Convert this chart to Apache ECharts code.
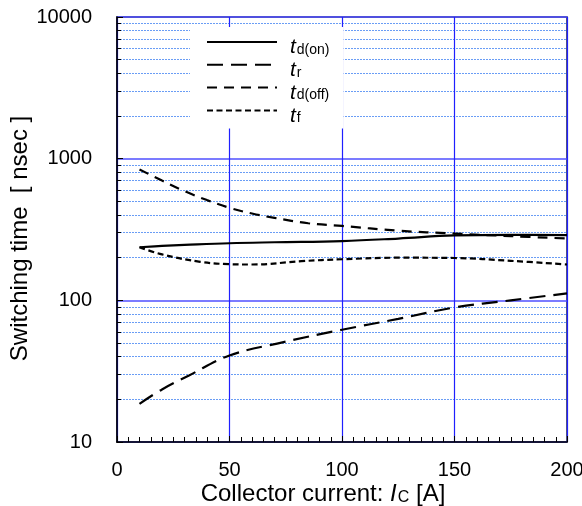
<!DOCTYPE html>
<html><head><meta charset="utf-8">
<script src="https://cdn.jsdelivr.net/npm/echarts@6/dist/echarts.min.js"></script>
<style>html,body{margin:0;padding:0;background:#fff}#c{width:582px;height:506px}</style>
</head><body><div id="c"></div>
<script>
var xTd_on = [10, 20, 30, 50, 70, 100, 125, 150, 175, 200];
var td_on  = [237, 242, 246, 253, 257, 262, 273, 287, 290, 289];
var xTr = [10, 20, 32, 50, 74, 100, 125, 150, 175, 200];
var tr  = [18.6, 23.5, 29.5, 40.8, 50.7, 62, 74, 89, 100, 112];
var xTd_off = [10, 20, 30, 40, 50, 60, 70, 85, 100, 125, 150, 175, 200];
var td_off  = [840, 700, 590, 510, 450, 410, 382, 350, 335, 310, 296, 284, 273];
var xTf = [10, 20, 37, 50, 60, 82, 100, 126, 150, 175, 200];
var tf  = [237, 211, 187, 180, 179, 189, 195, 200, 199, 190, 179];
var xTicks = [0, 50, 100, 150, 200];
var yTicks = [10, 100, 1000, 10000];
var names = ['td(on)', 'tr', 'td(off)', 'tf'];
var legendSub = {'td(on)': 'd(on)', 'tr': 'r', 'td(off)': 'd(off)', 'tf': 'f'};

function pairs(xs, ys) { return xs.map(function (x, i) { return [x, ys[i]]; }); }

var chart = echarts.init(document.getElementById('c'));
var font = 'Liberation Sans, Arial, sans-serif';
function mk(name, xs, ys, dash) {
  return {
    name: name, type: 'line', data: pairs(xs, ys), smooth: 0.4, symbol: 'none',
    lineStyle: {color: '#000', width: 2.2, type: dash}, itemStyle: {color: '#000'}, z: 5
  };
}
chart.setOption({
  animation: false,
  backgroundColor: '#fff',
  textStyle: {fontFamily: font},
  grid: {left: 117, right: 15, top: 17, bottom: 64, show: true, borderColor: '#1c1c50', borderWidth: 1.5,
    backgroundColor: 'transparent', containLabel: false, outerBoundsMode: 'none'},
  legend: {
    orient: 'vertical', left: 190, top: 27, itemWidth: 70, itemHeight: 14, itemGap: 0.8,
    backgroundColor: '#fff', padding: [9, 14, 2, 16], data: names,
    itemStyle: {color: 'rgba(0,0,0,0)', borderWidth: 0, opacity: 0},
    formatter: function (n) { return '{t|t}{s|' + legendSub[n] + '}'; },
    textStyle: {
      fontFamily: font, color: '#000', padding: [10, 0, 0, 8],
      rich: {
        t: {fontSize: 21, fontStyle: 'italic', fontFamily: font, lineHeight: 20, verticalAlign: 'top'},
        s: {fontSize: 14, fontFamily: font, lineHeight: 20, verticalAlign: 'bottom', padding: [7, 0, 0, 1]}
      }
    }
  },
  xAxis: {
    type: 'value', min: 0, max: 200, interval: 50,
    axisLine: {show: true, lineStyle: {color: '#000', width: 1.5}},
    axisTick: {show: true, inside: true, length: 6, lineStyle: {color: '#000'}},
    minorTick: {show: true, splitNumber: 10, length: 5, lineStyle: {color: '#000'}},
    splitLine: {show: true, lineStyle: {color: '#2020ff', width: 1.2}},
    axisLabel: {fontSize: 20, color: '#000', margin: 18, fontFamily: font,
      formatter: function (v) { return String(v); }},
    name: 'Collector current: {i|I}{s|C} [A]', nameLocation: 'middle', nameGap: 40, nameMoveOverlap: false,
    nameTextStyle: {fontSize: 24, color: '#000', fontFamily: font, verticalAlign: 'top', padding: [0, 38, 0, 0],
      rich: {i: {fontSize: 24, fontStyle: 'italic', fontFamily: font, lineHeight: 24, verticalAlign: 'top'},
             s: {fontSize: 16, fontFamily: font, lineHeight: 24, verticalAlign: 'bottom', padding: [8, 0, 0, 1]}}}
  },
  yAxis: {
    type: 'log', logBase: 10, min: 10, max: 10000,
    axisLine: {show: true, lineStyle: {color: '#000', width: 1.5}},
    axisTick: {show: true, inside: true, length: 6, lineStyle: {color: '#000'}},
    minorTick: {show: true, splitNumber: 9, length: 4, lineStyle: {color: '#000'}},
    splitLine: {show: true, lineStyle: {color: '#4f4fff', width: 1.5}},
    minorSplitLine: {show: true, lineStyle: {color: '#6a9df5', width: 1, type: [2, 1]}},
    axisLabel: {fontSize: 20, color: '#000', margin: 25, fontFamily: font,
      formatter: function (v) { return String(v); }},
    name: 'Switching time  [ nsec ]', nameLocation: 'middle', nameGap: 85, nameRotate: 90, nameMoveOverlap: false,
    nameTextStyle: {fontSize: 24, color: '#000', fontFamily: font, padding: [0, 18, 0, 0]}
  },
  series: [
    mk('td(on)', xTd_on, td_on, 'solid'),
    mk('tr', xTr, tr, [16, 8]),
    mk('td(off)', xTd_off, td_off, [10, 7]),
    mk('tf', xTf, tf, [6, 3.5])
  ]
});
</script></body></html>
